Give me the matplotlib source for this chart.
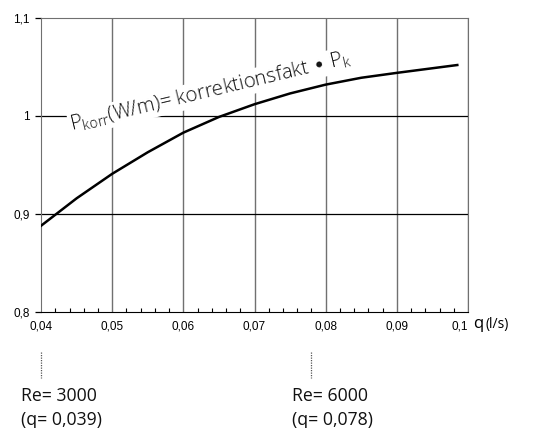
import matplotlib.pyplot as plt
from matplotlib.ticker import FixedLocator, MultipleLocator

q = [0.04, 0.045, 0.05, 0.055, 0.06, 0.065, 0.07, 0.075, 0.08, 0.085, 0.09, 0.0985]
faktor = [0.888, 0.916, 0.941, 0.963, 0.983, 0.999, 1.012, 1.023, 1.032, 1.039, 1.044, 1.052]

xticks = [0.04, 0.05, 0.06, 0.07, 0.08, 0.09, 0.1]
xlabels = ["0,04", "0,05", "0,06", "0,07", "0,08", "0,09", "0,1"]
yticks = [0.8, 0.9, 1.0, 1.1]
ylabels = ["0,8", "0,9", "1", "1,1"]

re_q = [0.04, 0.078]
re_text = ["Re= 3000\n(q= 0,039)", "Re= 6000\n(q= 0,078)"]

plt.rcParams['font.family'] = ['Liberation Sans', 'DejaVu Sans']

fig = plt.figure(figsize=(5.33, 4.28), dpi=100)
ax = fig.add_axes([0.077, 0.271, 0.801, 0.687])

ax.set_xlim(0.04, 0.1)
ax.set_ylim(0.8, 1.1)

for x in xticks[1:]:
    ax.axvline(x, color='#707070', lw=1.0, zorder=1)
for y in yticks[1:3]:
    ax.axhline(y, color='black', lw=0.9, zorder=1)

ax.plot(q, faktor, color='black', lw=1.8, zorder=3)

for s in ['top', 'right', 'left']:
    ax.spines[s].set_color('#707070')
ax.spines['bottom'].set_color('black')

ax.xaxis.set_major_locator(FixedLocator(xticks))
ax.set_xticklabels(xlabels)
ax.get_xticklabels()[-1].set_ha('right')
ax.xaxis.set_minor_locator(MultipleLocator(0.002))
ax.tick_params(axis='x', which='major', length=0, labelsize=8.5, pad=6)
ax.tick_params(axis='x', which='minor', direction='in', length=3, width=0.8)
ax.set_yticks(yticks)
ax.set_yticklabels(ylabels)
ax.tick_params(axis='y', which='major', direction='out', length=4, width=0.9,
               labelsize=8.5, pad=4)

ax.text(0.0443, 0.985, r"P$_{\mathregular{korr}}$(W/m)= korrektionsfakt $\bullet$ P$_{\mathregular{k}}$",
        rotation=13.5, rotation_mode='anchor', fontsize=14.5, family='Open Sans',
        fontweight='light', color='#111111', zorder=2,
        bbox=dict(facecolor='white', edgecolor='none', pad=1))

ax.text(1.012, -0.055, "q", transform=ax.transAxes, fontsize=12,
        family='Open Sans', va='baseline', ha='left')
ax.text(1.042, -0.055, "(l/s)", transform=ax.transAxes, fontsize=10,
        family='Open Sans', va='baseline', ha='left')

for x, t in zip(re_q, re_text):
    ax.plot([x, x], [0.759, 0.733], color='#555555', lw=0.9, ls=(0, (1, 1)), clip_on=False)
    ax.text(x - 0.0028, 0.723, t, fontsize=12.7, family='Open Sans', va='top', ha='left',
            linespacing=1.4, color='#111111')

fig.savefig("out.png", dpi=100)
